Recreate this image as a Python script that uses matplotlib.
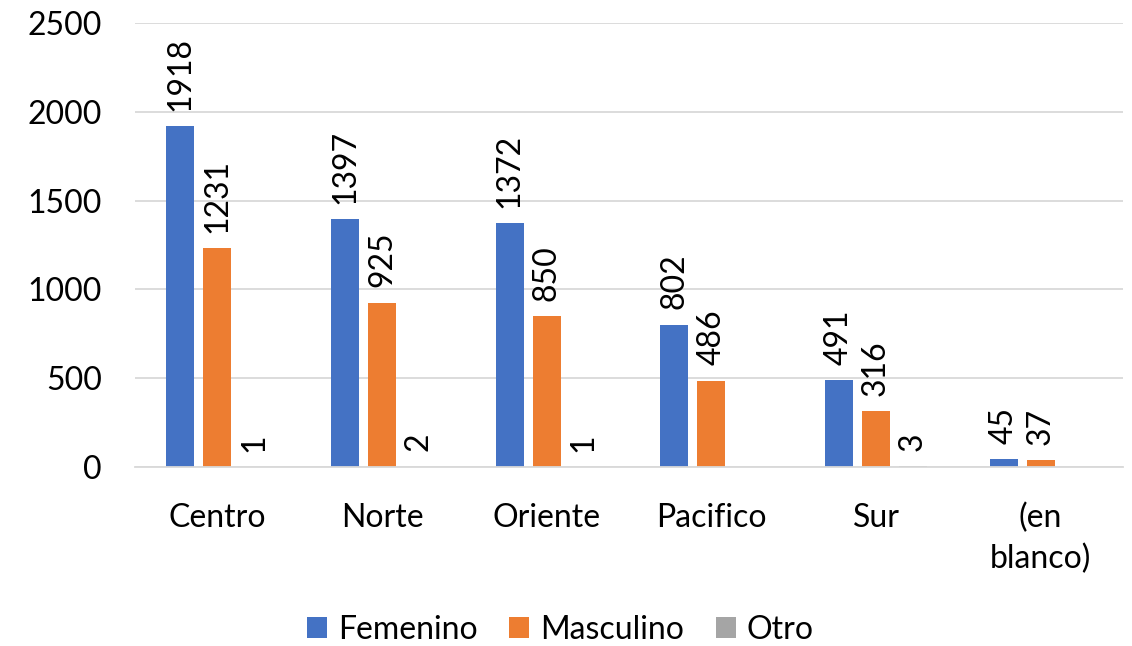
import numpy as np
import matplotlib.pyplot as plt

# ------------------------------
# Data
# ------------------------------
regiones = ['Centro', 'Norte', 'Oriente', 'Pacifico', 'Sur', '(en\nblanco)']
femenino = [1918, 1397, 1372, 802, 491, 45]
masculino = [1231, 925, 850, 486, 316, 37]
otro = [1, 2, 1, 0, 3, 0]

plt.rcParams['font.family'] = ['Lato', 'DejaVu Sans']
FS = 23

fig = plt.figure(figsize=(11.32, 6.46), dpi=100)
# plot area: x 135..1123 px, y 23..467 px
ax = fig.add_axes([135 / 1132, (646 - 467) / 646, 988 / 1132, 444 / 646])

x = np.arange(len(regiones))
w = 0.17
step = 0.224
series = [
    (femenino, '#4472C4', 'Femenino'),
    (masculino, '#ED7D31', 'Masculino'),
    (otro, '#A5A5A5', 'Otro'),
]

for i, (vals, col, name) in enumerate(series):
    pos = x + (i - 1) * step
    ax.bar(pos, vals, width=w, color=col, label=name, zorder=2)
    for p, v in zip(pos, vals):
        if v == 0:
            continue
        ax.annotate(str(v), (p, v), xytext=(0, 11), textcoords='offset points',
                    rotation=90, ha='center', va='bottom', fontsize=FS)

ax.set_xlim(-0.5, len(regiones) - 0.5)
ax.set_ylim(0, 2500)
ax.set_yticks(range(0, 2501, 500))
ax.set_xticks(x)
ax.set_xticklabels(regiones, fontsize=FS, linespacing=1.4)
ax.tick_params(axis='y', labelsize=FS, length=0, pad=24)
ax.tick_params(axis='x', length=0, pad=26)
ax.grid(axis='y', color='#D9D9D9', linewidth=1.3, zorder=0)
for s in ['top', 'right', 'left']:
    ax.spines[s].set_visible(False)
ax.spines['bottom'].set_color('#D9D9D9')
ax.spines['bottom'].set_linewidth(1.3)

fig.legend(loc='center', bbox_to_anchor=(0.495, 1 - 630 / 646), ncol=3, frameon=False,
           fontsize=FS, handlelength=0.62, handleheight=0.62, columnspacing=1.0,
           handletextpad=0.34, borderaxespad=0)

plt.savefig('out.png', dpi=100)
